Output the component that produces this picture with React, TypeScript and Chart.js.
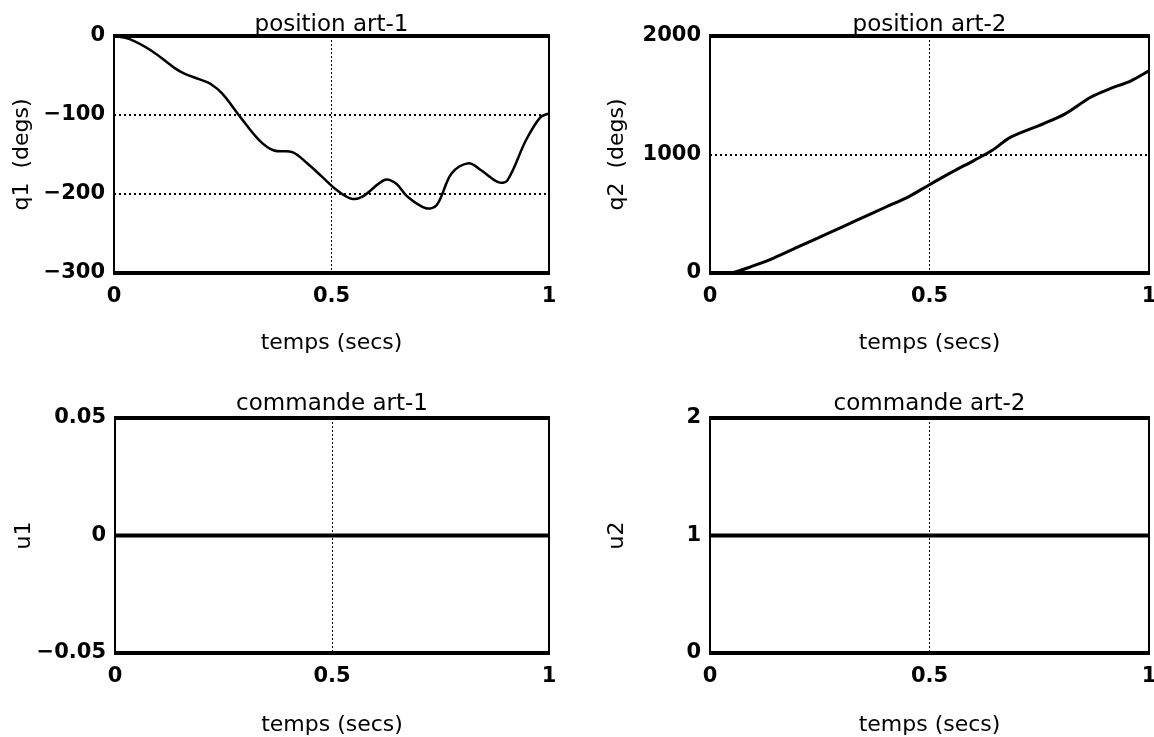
import React, { useEffect, useRef } from "react";
import { Chart, registerables } from "chart.js";

Chart.register(...registerables);

// ---------- data ----------
const T_Q1 = [0, 0.036, 0.087, 0.138, 0.163, 0.197, 0.223, 0.249, 0.291, 0.334, 0.368, 0.41, 0.444, 0.478, 0.512, 0.546, 0.572, 0.623, 0.649, 0.674, 0.717, 0.742, 0.776, 0.815, 0.844, 0.883, 0.904, 0.947, 0.98, 1.0];
const Q1 = [0, -4, -19, -40, -48, -55, -61, -73, -103, -132, -145, -147, -161, -178, -195, -206, -203, -182, -187, -203, -218, -214, -174, -161, -170, -185, -183, -132, -103, -98];

const T_Q2 = [0, 0.054, 0.095, 0.145, 0.203, 0.27, 0.336, 0.402, 0.452, 0.498, 0.552, 0.602, 0.643, 0.685, 0.759, 0.809, 0.867, 0.909, 0.959, 1.0];
const Q2 = [0, 6, 56, 126, 224, 336, 448, 559, 643, 741, 853, 951, 1035, 1147, 1259, 1343, 1483, 1552, 1622, 1706];

const T_U = [0, 1];
const U1 = [0, 0];
const U2 = [1, 1];

const X_TICKS = [0, 0.5, 1];
const X_TICK_LABELS = ["0", "0.5", "1"];

const Q1_TICKS = [-300, -200, -100, 0];
const Q1_TICK_LABELS = ["\u2212300", "\u2212200", "\u2212100", "0"];
const Q2_TICKS = [0, 1000, 2000];
const Q2_TICK_LABELS = ["0", "1000", "2000"];
const U1_TICKS = [-0.05, 0, 0.05];
const U1_TICK_LABELS = ["\u22120.05", "0", "0.05"];
const U2_TICKS = [0, 1, 2];
const U2_TICK_LABELS = ["0", "1", "2"];

const TITLES = ["position art-1", "position art-2", "commande art-1", "commande art-2"];
const Y_TITLES = ["q1  (degs)", "q2  (degs)", "u1", "u2"];
const X_TITLE = "temps (secs)";

// ---------- drawing ----------
const FONT = "'DejaVu Sans', 'Liberation Sans', sans-serif";

const framePlugin = {
  id: "frame",
  afterDatasetsDraw(chart: any) {
    const { ctx, chartArea } = chart;
    const { left, right, top, bottom } = chartArea;
    ctx.save();
    ctx.strokeStyle = "#000";
    ctx.lineCap = "butt";
    const seg = (x1: number, y1: number, x2: number, y2: number) => {
      ctx.beginPath();
      ctx.moveTo(x1, y1);
      ctx.lineTo(x2, y2);
      ctx.stroke();
    };
    ctx.lineWidth = 4;
    seg(left - 1, top, right + 1, top);
    seg(left - 1, bottom, right + 1, bottom);
    ctx.lineWidth = 2;
    seg(left, top, left, bottom);
    seg(right, top, right, bottom);
    ctx.restore();
  },
};

const noPad = (s: any) => {
  s.paddingLeft = 0;
  s.paddingRight = 0;
  s.paddingTop = 0;
  s.paddingBottom = 0;
};

type PanelProps = {
  left: number;
  top: number;
  width: number;
  height: number;
  plotLeft: number;
  plotRight: number;
  plotTop: number;
  plotBottom: number;
  titleCenter: number;
  yTitleCenter: number;
  xTitleCenter: number;
  title: string;
  yTitle: string;
  xs: number[];
  ys: number[];
  yTicks: number[];
  yLabels: string[];
  lineWidth: number;
  tension: number;
};

function Panel(p: PanelProps) {
  const ref = useRef<HTMLCanvasElement | null>(null);
  useEffect(() => {
    if (!ref.current) return;
    const titleSize = 23;
    const axisTitleSize = 22;
    const yMin = p.yTicks[0];
    const yMax = p.yTicks[p.yTicks.length - 1];
    const xAxisHeight = p.height - p.plotBottom;
    const chart = new Chart(ref.current, {
      type: "line",
      data: {
        datasets: [
          {
            data: p.xs.map((x, i) => ({ x, y: p.ys[i] })),
            borderColor: "#000",
            borderWidth: p.lineWidth,
            pointRadius: 0,
            tension: p.tension,
            fill: false,
            xAxisID: "x",
            yAxisID: "y",
          },
        ],
      },
      plugins: [framePlugin],
      options: {
        responsive: false,
        animation: false,
        devicePixelRatio: 1,
        layout: {
          autoPadding: false,
          padding: { left: 0, right: p.width - p.plotRight, top: 0, bottom: 0 },
        },
        plugins: {
          legend: { display: false },
          tooltip: { enabled: false },
          title: { display: false },
        },
        scales: {
          top: {
            type: "linear",
            position: "top",
            min: 0,
            max: 1,
            afterFit: (s: any) => {
              s.height = p.plotTop;
              noPad(s);
            },
            ticks: { display: false },
            grid: { display: false, drawTicks: false },
            border: { display: false },
            title: {
              display: true,
              text: p.title,
              color: "#000",
              font: { family: FONT, size: titleSize, weight: "normal", lineHeight: 1 },
              padding: { top: p.titleCenter - titleSize / 2, bottom: 0 },
            },
          },
          x: {
            type: "linear",
            position: "bottom",
            min: 0,
            max: 1,
            afterBuildTicks: (s: any) => {
              s.ticks = X_TICKS.map((v) => ({ value: v }));
            },
            afterFit: (s: any) => {
              s.height = xAxisHeight;
              noPad(s);
            },
            ticks: {
              autoSkip: false,
              maxRotation: 0,
              padding: 11,
              color: "#000",
              font: { family: FONT, size: 21, weight: "bold" },
              callback: (_v: any, i: number) => X_TICK_LABELS[i],
            },
            grid: {
              drawTicks: false,
              lineWidth: 1,
              color: (c: any) => (c.index > 0 && c.index < X_TICKS.length - 1 ? "#000" : "rgba(0,0,0,0)"),
            },
            border: { display: false, dash: [2, 2] },
            title: {
              display: true,
              text: X_TITLE,
              color: "#000",
              font: { family: FONT, size: axisTitleSize, weight: "normal", lineHeight: 1 },
              padding: { top: 0, bottom: xAxisHeight - (p.xTitleCenter - p.plotBottom) - axisTitleSize / 2 },
            },
          },
          y: {
            type: "linear",
            position: "left",
            min: yMin,
            max: yMax,
            afterBuildTicks: (s: any) => {
              s.ticks = p.yTicks.map((v) => ({ value: v }));
            },
            afterFit: (s: any) => {
              s.width = p.plotLeft;
              noPad(s);
            },
            ticks: {
              autoSkip: false,
              padding: 9,
              color: "#000",
              font: { family: FONT, size: 21, weight: "bold" },
              callback: (_v: any, i: number) => p.yLabels[i],
            },
            grid: {
              drawTicks: false,
              lineWidth: 2,
              color: (c: any) => (c.index > 0 && c.index < p.yTicks.length - 1 ? "#000" : "rgba(0,0,0,0)"),
            },
            border: { display: false, dash: [2, 3] },
            title: {
              display: true,
              text: p.yTitle,
              color: "#000",
              font: { family: FONT, size: axisTitleSize, weight: "normal", lineHeight: 1 },
              padding: { top: p.yTitleCenter - axisTitleSize / 2, bottom: 0 },
            },
          },
        },
      } as any,
    });
    return () => chart.destroy();
  }, []);
  return (
    <canvas
      ref={ref}
      width={p.width}
      height={p.height}
      style={{ position: "absolute", left: p.left, top: p.top, width: p.width, height: p.height }}
    />
  );
}

export default function App() {
  const common = { width: 577 };
  return (
    <div style={{ position: "fixed", left: 0, top: 0, width: 1154, height: 737, background: "#fff", overflow: "hidden" }}>
      <Panel
        {...common}
        left={0}
        top={0}
        height={368}
        plotLeft={114}
        plotRight={549}
        plotTop={36}
        plotBottom={273}
        titleCenter={25}
        yTitleCenter={22}
        xTitleCenter={343}
        title={TITLES[0]}
        yTitle={Y_TITLES[0]}
        xs={T_Q1}
        ys={Q1}
        yTicks={Q1_TICKS}
        yLabels={Q1_TICK_LABELS}
        lineWidth={2.5}
        tension={0.35}
      />
      <Panel
        {...common}
        left={577}
        top={0}
        height={368}
        plotLeft={133}
        plotRight={572}
        plotTop={36}
        plotBottom={273}
        titleCenter={25}
        yTitleCenter={40}
        xTitleCenter={343}
        title={TITLES[1]}
        yTitle={Y_TITLES[1]}
        xs={T_Q2}
        ys={Q2}
        yTicks={Q2_TICKS}
        yLabels={Q2_TICK_LABELS}
        lineWidth={3}
        tension={0.3}
      />
      <Panel
        {...common}
        left={0}
        top={368}
        height={369}
        plotLeft={115}
        plotRight={549}
        plotTop={50}
        plotBottom={285}
        titleCenter={36}
        yTitleCenter={24}
        xTitleCenter={357}
        title={TITLES[2]}
        yTitle={Y_TITLES[2]}
        xs={T_U}
        ys={U1}
        yTicks={U1_TICKS}
        yLabels={U1_TICK_LABELS}
        lineWidth={4}
        tension={0}
      />
      <Panel
        {...common}
        left={577}
        top={368}
        height={369}
        plotLeft={133}
        plotRight={572}
        plotTop={50}
        plotBottom={285}
        titleCenter={36}
        yTitleCenter={40}
        xTitleCenter={357}
        title={TITLES[3]}
        yTitle={Y_TITLES[3]}
        xs={T_U}
        ys={U2}
        yTicks={U2_TICKS}
        yLabels={U2_TICK_LABELS}
        lineWidth={4}
        tension={0}
      />
    </div>
  );
}
